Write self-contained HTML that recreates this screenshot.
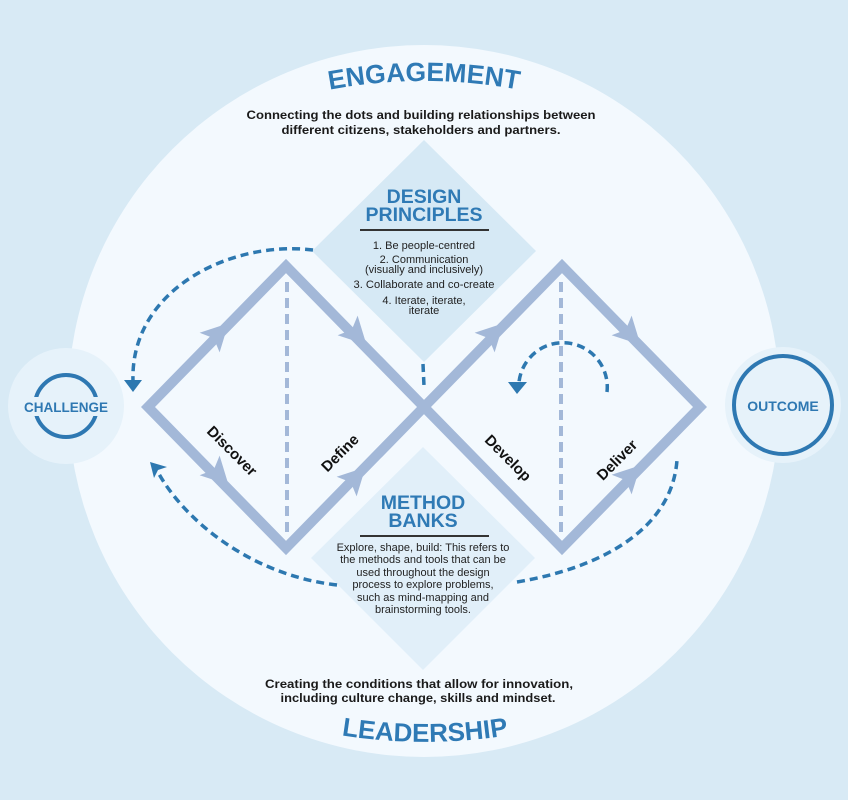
<!DOCTYPE html>
<html>
<head>
<meta charset="utf-8">
<style>
html,body{margin:0;padding:0;background:#d8eaf5;}
svg{display:block;}
text{font-family:"Liberation Sans",Arial,sans-serif;}
</style>
</head>
<body>
<svg width="848" height="800" viewBox="0 0 848 800" xmlns="http://www.w3.org/2000/svg">
  <defs>
    <path id="arcTop" d="M 300,96 A 520 520 0 0 1 548,96"/>
    <path id="arcBot" d="M 300,727 A 533 533 0 0 0 550,727"/>
  </defs>
  <rect x="0" y="0" width="848" height="800" fill="#d8eaf5"/>
  <circle cx="424" cy="401" r="356" fill="#f3f9fe"/>

  <!-- side circles -->
  <circle cx="66" cy="406" r="58" fill="#e6f2fa"/>
  <circle cx="66" cy="406" r="31" fill="none" stroke="#2e78b2" stroke-width="4"/>
  <rect x="18" y="397" width="96" height="19" fill="#e6f2fa"/>
  <text x="66" y="412" text-anchor="middle" font-size="13.5" font-weight="bold" fill="#2e78b2">CHALLENGE</text>

  <circle cx="783" cy="405" r="58" fill="#e6f2fa"/>
  <circle cx="783" cy="405" r="49" fill="none" stroke="#2e78b2" stroke-width="4"/>
  <text x="783" y="411" text-anchor="middle" font-size="14" font-weight="bold" fill="#2e78b2">OUTCOME</text>

  <!-- principle diamonds -->
  <polygon points="424,140 536,251 424,362 312,251" fill="#d6e9f5"/>
  <polygon points="423,447 535,558 423,670 311,558" fill="#e1eff9"/>

  <!-- double diamond -->
  <g fill="none" stroke="#a3b8d8" stroke-width="10" stroke-linejoin="miter" stroke-miterlimit="10">
    <polygon points="148,407 286,266 424,407 286,548"/>
    <polygon points="424,407 562,266 700,407 562,548"/>
  </g>
  <g stroke="#a3b8d8" stroke-width="4" stroke-dasharray="10 6">
    <line x1="287" y1="282" x2="287" y2="534"/>
    <line x1="561" y1="282" x2="561" y2="534"/>
  </g>
  <!-- arrowheads on diamond lines -->
  <g fill="#a3b8d8">
    <polygon points="15,0 -12,-14 -6,0 -12,14" transform="translate(218,334) rotate(-45.6)"/>
    <polygon points="15,0 -12,-14 -6,0 -12,14" transform="translate(356,334) rotate(45.6)"/>
    <polygon points="15,0 -12,-14 -6,0 -12,14" transform="translate(218,474) rotate(45.6)"/>
    <polygon points="15,0 -12,-14 -6,0 -12,14" transform="translate(355,478) rotate(-45.6)"/>
    <polygon points="15,0 -12,-14 -6,0 -12,14" transform="translate(493,334) rotate(-45.6)"/>
    <polygon points="15,0 -12,-14 -6,0 -12,14" transform="translate(630,334) rotate(45.6)"/>
    <polygon points="15,0 -12,-14 -6,0 -12,14" transform="translate(630,476) rotate(-45.6)"/>
  </g>

  <!-- phase labels -->
  <g font-size="15" font-weight="bold" fill="#111" text-anchor="middle">
    <text transform="translate(232,451) rotate(45)" y="5">Discover</text>
    <text transform="translate(340,453) rotate(-45)" y="5">Define</text>
    <text transform="translate(508,458) rotate(45)" y="5">Develop</text>
    <text transform="translate(617,460) rotate(-45)" y="5">Deliver</text>
  </g>

  <!-- dashed blue connectors -->
  <g fill="none" stroke="#2d78b0" stroke-width="3.5" stroke-dasharray="8 5">
    <path d="M313,250 C 230,240 130,290 133,381"/>
    <path d="M337,585 C 250,575 185,520 159,474"/>
    <path d="M423,364 L424,386"/>
    <path d="M607,392 A 44 44 0 0 0 519,382"/>
    <path d="M517,582 C 600,568 672,530 677,460"/>
  </g>
  <g fill="#2d78b0">
    <polygon points="124,380 142,380 133,392"/>
    <polygon points="150,462 167,467 158,470 154,478"/>
    <polygon points="508,382 527,382 517,394"/>
  </g>

  <!-- ENGAGEMENT -->
  <text font-size="26.5" font-weight="bold" fill="#2f7ab5"><textPath href="#arcTop" startOffset="50%" text-anchor="middle">ENGAGEMENT</textPath></text>
  <g font-size="12" font-weight="bold" fill="#1a1a1a" text-anchor="middle">
    <text x="421" y="119" textLength="349" lengthAdjust="spacingAndGlyphs">Connecting the dots and building relationships between</text>
    <text x="421" y="134" textLength="279" lengthAdjust="spacingAndGlyphs">different citizens, stakeholders and partners.</text>
    <text x="419" y="688" textLength="308" lengthAdjust="spacingAndGlyphs">Creating the conditions that allow for innovation,</text>
    <text x="418" y="702" textLength="275" lengthAdjust="spacingAndGlyphs">including culture change, skills and mindset.</text>
  </g>
  <text font-size="26" font-weight="bold" fill="#2f7ab5"><textPath href="#arcBot" startOffset="50%" text-anchor="middle">LEADERSHIP</textPath></text>

  <!-- Design principles -->
  <g text-anchor="middle">
    <text x="424" y="203" font-size="19.5" font-weight="bold" fill="#2f7ab5">DESIGN</text>
    <text x="424" y="221" font-size="19.5" font-weight="bold" fill="#2f7ab5">PRINCIPLES</text>
    <line x1="360" y1="230" x2="489" y2="230" stroke="#333" stroke-width="2"/>
    <g font-size="11" fill="#222">
      <text x="424" y="249">1. Be people-centred</text>
      <text x="424" y="263">2. Communication</text>
      <text x="424" y="273">(visually and inclusively)</text>
      <text x="424" y="288" textLength="141" lengthAdjust="spacingAndGlyphs">3. Collaborate and co-create</text>
      <text x="424" y="304">4. Iterate, iterate,</text>
      <text x="424" y="314">iterate</text>
    </g>
  </g>

  <!-- Method banks -->
  <g text-anchor="middle">
    <text x="423" y="509" font-size="19.5" font-weight="bold" fill="#2f7ab5">METHOD</text>
    <text x="423" y="527" font-size="19.5" font-weight="bold" fill="#2f7ab5">BANKS</text>
    <line x1="360" y1="536" x2="489" y2="536" stroke="#333" stroke-width="2"/>
    <g font-size="11" fill="#222">
      <text x="423" y="551">Explore, shape, build: This refers to</text>
      <text x="423" y="563">the methods and tools that can be</text>
      <text x="423" y="576">used throughout the design</text>
      <text x="423" y="588">process to explore problems,</text>
      <text x="423" y="601">such as mind-mapping and</text>
      <text x="423" y="613">brainstorming tools.</text>
    </g>
  </g>
</svg>
</body>
</html>
